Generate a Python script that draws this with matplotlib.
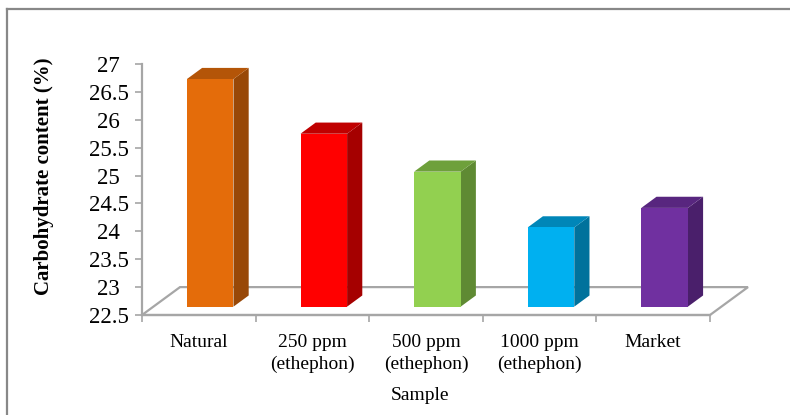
import matplotlib
matplotlib.use("Agg")
import matplotlib.pyplot as plt
from matplotlib.patches import Polygon
from matplotlib.lines import Line2D

# ---- data ----
samples = ["Natural", "250 ppm\n(ethephon)", "500 ppm\n(ethephon)",
           "1000 ppm\n(ethephon)", "Market"]
carbs = [26.58, 25.60, 24.92, 23.92, 24.27]
front_col = ["#E46C0A", "#FF0000", "#92D050", "#00B0F0", "#7030A0"]
top_col = ["#B45508", "#C00000", "#6EA03B", "#0086B8", "#58267F"]
side_col = ["#984807", "#A50000", "#5F8A33", "#00729C", "#4A1F6B"]
yticks = [22.5, 23, 23.5, 24, 24.5, 25, 25.5, 26, 26.5, 27]

plt.rcParams["font.family"] = ["Liberation Serif", "DejaVu Serif"]

W, H = 790, 415
fig = plt.figure(figsize=(W / 100, H / 100), dpi=100)
ax = fig.add_axes([142 / W, 1 - 315 / H, (710 - 142) / W, (315 - 64) / H])
ymin, ymax = 22.5, 27.0
n = len(samples)
ax.set_xlim(0, n)
ax.set_ylim(ymin, ymax)

# oblique depth: one unit of depth shifts by (kx categories, ky value units)
kx, ky = 38 / 113.6, 0.5
z0, z1 = 0.3, 0.7
bw = 0.41
grey = "#A6A6A6"

# floor
floor = Polygon([(0, ymin), (n, ymin), (n + kx, ymin + ky), (kx, ymin + ky)],
                closed=True, facecolor="white", edgecolor=grey, lw=1.6,
                clip_on=False, zorder=1)
ax.add_patch(floor)

for i, v in enumerate(carbs):
    x0 = i + 0.5 - bw / 2
    x1 = i + 0.5 + bw / 2
    fx0, fx1 = x0 + z0 * kx, x1 + z0 * kx
    bx1 = x1 + z1 * kx
    yb, yt = ymin + z0 * ky, v + z0 * ky
    ybb, ytb = ymin + z1 * ky, v + z1 * ky
    side = Polygon([(fx1, yb), (bx1, ybb), (bx1, ytb), (fx1, yt)],
                   closed=True, facecolor=side_col[i], edgecolor="none",
                   clip_on=False, zorder=3)
    top = Polygon([(fx0, yt), (fx1, yt), (bx1, ytb), (x0 + z1 * kx, ytb)],
                  closed=True, facecolor=top_col[i], edgecolor="none",
                  clip_on=False, zorder=3)
    front = Polygon([(fx0, yb), (fx1, yb), (fx1, yt), (fx0, yt)],
                    closed=True, facecolor=front_col[i], edgecolor="none",
                    clip_on=False, zorder=4)
    for p in (side, top, front):
        ax.add_patch(p)

for s in ("top", "right"):
    ax.spines[s].set_visible(False)
for s in ("left", "bottom"):
    ax.spines[s].set_color(grey)
    ax.spines[s].set_linewidth(1.6)
    ax.spines[s].set_zorder(2)

ax.set_yticks(yticks)
ax.set_yticklabels([f"{t:g}" for t in yticks])
ax.tick_params(axis="y", length=5, width=1.2, color=grey, labelsize=16.5, pad=19)
for lab in ax.get_yticklabels():
    lab.set_ha("center")

ax.set_xticks(range(n + 1))
ax.set_xticklabels([])
ax.set_xticks([i + 0.5 for i in range(n)], minor=True)
ax.set_xticklabels(samples, minor=True, linespacing=1.38)
ax.tick_params(axis="x", which="major", length=5, width=1.2, color=grey, direction="out")
ax.tick_params(axis="x", which="minor", length=0, labelsize=14, pad=13.5)

ax.set_xlabel("Sample", fontsize=14)
ax.xaxis.set_label_coords(0.49, -0.285)
ax.set_ylabel("Carbohydrate content (%)", fontsize=15, fontweight="bold")
ax.yaxis.set_label_coords(-0.155, 0.552)
ax.patch.set_visible(False)

# chart frame (left and top edges)
fig.add_artist(Line2D([7 / W, 7 / W], [0, 1 - 9 / H], color="#888888", lw=1.6))
fig.add_artist(Line2D([7 / W, 1], [1 - 9 / H, 1 - 9 / H], color="#888888", lw=1.6))

fig.savefig("out.png", dpi=100)
